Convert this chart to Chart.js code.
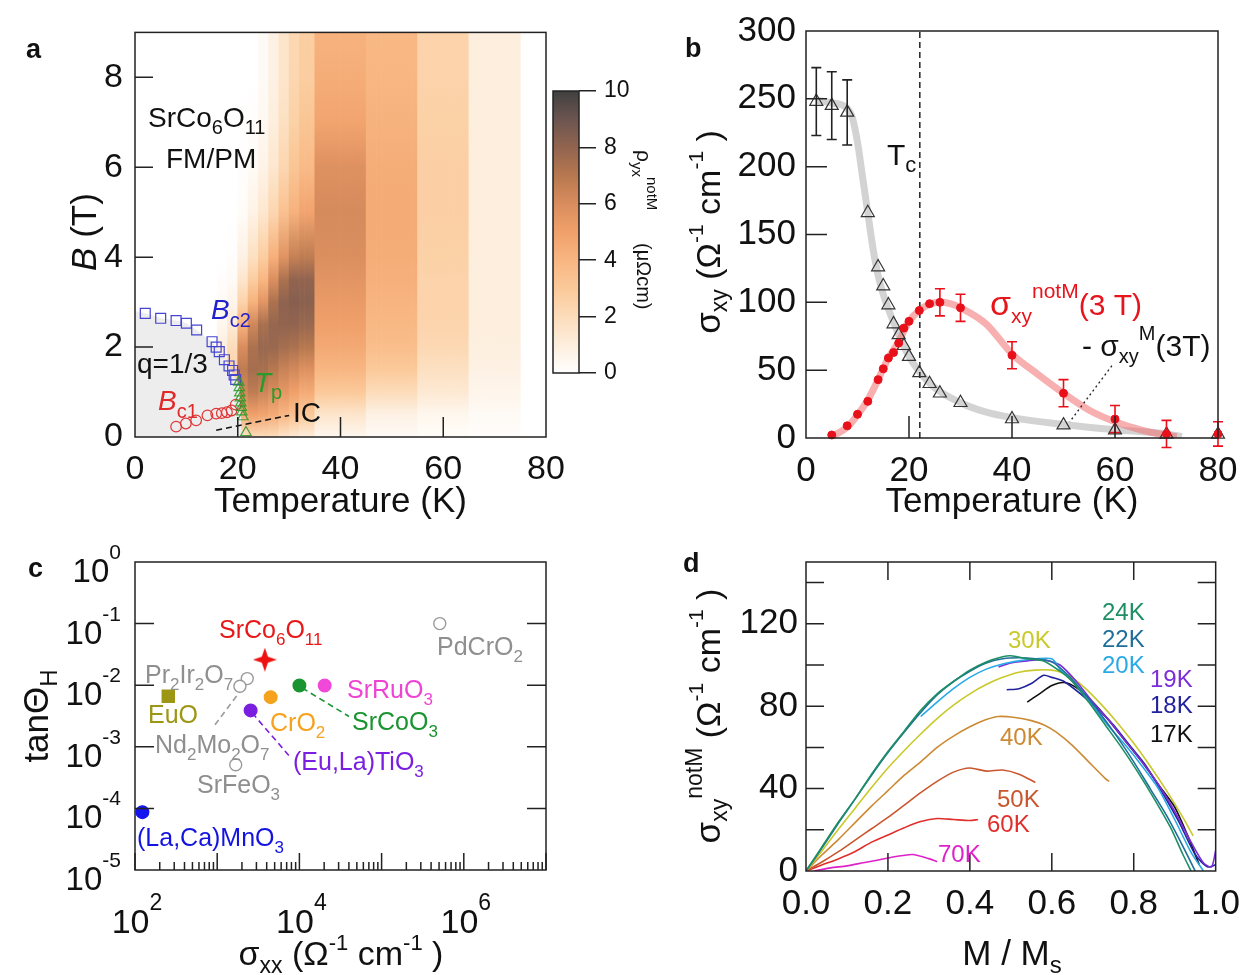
<!DOCTYPE html>
<html><head><meta charset="utf-8">
<script src="https://cdn.jsdelivr.net/npm/chart.js@4.4.1/dist/chart.umd.min.js"></script>
<style>
html,body{margin:0;padding:0;background:#fff;}
#wrap{position:relative;width:1252px;height:975px;overflow:hidden;background:#fff;}
#wrap canvas{position:absolute;left:0;top:0;}
</style></head>
<body><div id="wrap"></div>
<script>
const FONT = "'Liberation Sans', Arial, Helvetica, sans-serif";
const W = 1252, H = 975;

// ================= DATA =================
// Panel a : heatmap of rho_yx^notM (columns in T, stops in B)
const heatEdges = [16,18,20,22,24,26,28,30,32,35,45,55,65,75];
const heatB     = [0,0.5,1,1.5,2,2.5,3,3.5,4,5,6,7,8,9];
const rho17 = [0.5,1.0,1.0,1.0,1.0,0.5,0.3,0.1,0,0,0,0,0,0];
const rho19 = [1.0,2.0,2.5,2.5,2.0,1.2,0.6,0.3,0.1,0,0,0,0,0];
const rho21 = [1.5,4.5,6.2,6.8,6.0,4.2,2.5,1.5,0.8,0.2,0.1,0,0,0];
const rho23 = [2.0,5.0,6.8,7.5,7.3,6.3,4.2,2.8,1.8,0.7,0.3,0.1,0,0];
const rho25 = [2.0,4.8,6.4,7.4,7.8,7.4,5.6,4.0,2.8,1.4,0.7,0.4,0.3,0.3];
const rho27 = [2.0,4.5,6.0,7.0,7.8,7.9,7.3,5.9,4.3,2.3,1.4,1.0,0.8,0.8];
const rho29 = [1.5,4.0,5.5,6.5,7.5,8.0,8.1,7.3,5.7,3.4,2.3,1.8,1.5,1.5];
const rho31 = [1.2,3.5,5.0,6.2,7.3,8.0,8.3,8.0,6.6,4.2,3.2,2.6,2.3,2.2];
const rho33 = [1.0,3.0,4.5,5.8,7.0,7.8,8.2,8.0,6.8,4.8,3.8,3.2,2.8,2.7];
const rho40 = [0.5,1.5,3.0,4.0,4.6,5.0,5.3,5.6,5.9,6.1,5.8,4.8,4.4,4.2];
const rho50 = [0.3,0.8,2.0,3.0,3.6,3.9,4.1,4.3,4.4,4.5,4.4,4.2,4.0,3.9];
const rho60 = [0.2,0.5,1.3,1.8,2.2,2.4,2.5,2.5,2.6,2.7,2.7,2.6,2.5,2.5];
const rho70 = [0.1,0.3,0.6,0.8,0.9,1.0,1.0,1.0,1.0,1.0,1.0,1.0,1.0,1.0];
const heatCols = [rho17,rho19,rho21,rho23,rho25,rho27,rho29,rho31,rho33,rho40,rho50,rho60,rho70];
// colour scale (value -> colour)
const cbarVals   = [0,1,2,3,4,5,6,7,8,9,10];
const cbarColors = ['#ffffff','#fdeedd','#fcdcba','#fbc999','#f8b682','#f0a06a','#d98d5e','#b7784f','#92644f','#6c5550','#404040'];
const cbTicks = [0,2,4,6,8,10];
// phase boundaries
const bc2T = [2,5,8,10,12,15,15.8,16.4,17.4,18.3,19,19.3,19.6];
const bc2B = [2.75,2.64,2.59,2.53,2.38,2.12,2.0,1.9,1.72,1.58,1.48,1.38,1.28];
const bc1T = [8,9.9,11.9,14.1,15.8,16.9,17.9,18.8,19.6];
const bc1B = [0.23,0.30,0.37,0.48,0.52,0.53,0.55,0.59,0.72];
const tpT  = [20.2,20.3,20.4,20.5,20.6,20.7,20.8,21.0,21.6];
const tpB  = [1.22,1.10,0.98,0.87,0.76,0.66,0.56,0.45,0.10];
const qT   = [0,2,5,8,10,12,15,16.4,18.3,19.6,20.3,20.6,20.8];
const qB   = [2.8,2.75,2.64,2.59,2.53,2.38,2.12,1.9,1.58,1.28,1.15,0.5,0];
const icT  = [15.8,30];
const icB  = [0.15,0.48];
const aXTicks = [0,20,40,60,80];
const aYTicks = [0,2,4,6,8];

// Panel b
const triT   = [2,5,8,12,14,15,16,17,18,19,20,22,24,26,30,40,50,60,70,80];
const triS   = [248,245,240,166,126,112,98,84,76,68,60,48,40,33,26,14,9.5,5.8,2.7,2.7];
const triErr = [25,25,24,0,0,0,0,0,0,0,0,0,0,0,0,0,0,0,0,0];
const redT   = [5,8,10,12,14,15,16,17,18,19,20,22,24,26,30,40,50,60,70,80];
const redS   = [2.2,9,17.5,27,43,51,59,63,70,81,86,94,99,100,96,61,33,14,3,3];
const redErr = [0,0,0,0,0,0,0,0,0,0,0,0,0,10,10,10,10,10,10,9];
const grayFitT = [2,5,8,9,10,11,12,13,14,15,16,18,20,22,25,30,35,40,50,60,70,73];
const grayFitS = [249,247,243,236,218,192,166,140,120,106,95,76,60,49,37,26,19,15,10,6,3,1];
const redFitT  = [5,8,10,12,14,16,18,20,22,24,26,28,30,35,40,45,50,55,60,65,70,72];
const redFitS  = [1,8,17,28,43,59,71,86,94,98.5,100,99,96,84,62,47,33,20.5,12,6,2,1];
const tcT = [22.1,22.1];
const tcS = [0,300];
const leaderT = [59.4,51.2];
const leaderS = [53.3,11.9];
const bXTicks = [0,20,40,60,80];
const bYTicks = [0,50,100,150,200,250,300];

// Panel c
const matNames = ['(La,Ca)MnO3','EuO','Pr2Ir2O7','Nd2Mo2O7','SrFeO3','(Eu,La)TiO3','SrCo6O11','CrO2','SrCoO3','SrRuO3','PdCrO2'];
const sigmaXX  = [123,254,2320,1890,1680,2550,3800,4470,10000,20300,510000];
const tanTheta = [8.7e-5,6.6e-3,1.28e-2,9.6e-3,5.1e-4,3.9e-3,2.6e-2,6.4e-3,9.9e-3,9.9e-3,0.1];
const leadNdX = [940,1890],  leadNdY = [2.28e-3,7.9e-3];
const leadEuX = [2670,7460], leadEuY = [3.53e-3,7.2e-4];
const leadCoX = [10840,40100], leadCoY = [9.0e-3,3.11e-3];
const cXTicks = [1e2,1e4,1e6];
const cYTicks = [1,1e-1,1e-2,1e-3,1e-4,1e-5];

// Panel d : sigma_xy^notM vs M/Ms
const d17M=[0.54,0.57,0.6,0.63,0.66,0.7,0.74,0.78,0.82,0.86,0.9,0.93,0.96];
const d17S=[82,86,90,91.5,89,82,73,63,53,42,31,18,3];
const d18M=[0.49,0.52,0.55,0.58,0.6,0.63,0.67,0.71,0.75,0.79,0.83,0.87,0.91,0.95,0.98,1.0];
const d18S=[88,88.5,91,95,94,92,86,79,71,61,51,38,24,8,2,3];
const d19M=[0.47,0.5,0.54,0.58,0.62,0.66,0.7,0.74,0.78,0.82,0.86,0.9,0.94,0.97,0.99,1.0];
const d19S=[99,101,102,102.5,100,92,82,73,63,53,42,29,14,4,2,10];
const d20M=[0.28,0.32,0.36,0.4,0.44,0.48,0.52,0.56,0.6,0.62,0.66,0.7,0.74,0.78,0.82,0.86,0.9,0.94,0.97];
const d20S=[75,82,88.5,94,98,100.5,102,103,103,98,90,80,70,61,51,40,25,9,0];
const d22M=[0,0.04,0.08,0.12,0.16,0.2,0.24,0.28,0.32,0.36,0.4,0.44,0.48,0.52,0.56,0.6,0.64,0.68,0.72,0.76,0.8,0.84,0.88,0.92,0.95];
const d22S=[0,11.5,23.5,35,46.5,57.5,67.5,77,85.5,92,97,101,103,103.5,103,101.5,95,86,76,65,53,40,27,12,0];
const d24M=[0,0.04,0.08,0.12,0.16,0.2,0.24,0.28,0.32,0.36,0.4,0.44,0.48,0.5,0.54,0.58,0.62,0.65,0.69,0.73,0.77,0.81,0.85,0.89,0.92,0.94];
const d24S=[0,12,24,35,47,58,68,78,86,92,97.5,101.5,104,104.5,103,102,97,92,82,71,60,48,35,21,8,0];
const d30M=[0,0.04,0.08,0.12,0.16,0.2,0.24,0.28,0.32,0.36,0.4,0.44,0.48,0.52,0.56,0.6,0.64,0.68,0.72,0.76,0.8,0.84,0.88,0.92,0.945];
const d30S=[0,10,20.5,30.5,40.5,50,58.5,66.5,74,80.5,86,90.5,94,96.5,97.5,97.5,95,89,81,72,62,51,39,26,17];
const d40M=[0,0.04,0.08,0.12,0.16,0.2,0.24,0.28,0.32,0.36,0.4,0.44,0.47,0.51,0.55,0.58,0.61,0.65,0.69,0.73,0.74];
const d40S=[0,8,15.5,23.5,31.5,39,46.5,53,60,65.5,70,73.5,75,74.5,73,71,67.5,61,53,45,43.5];
const d50M=[0,0.04,0.08,0.12,0.16,0.2,0.24,0.28,0.32,0.36,0.4,0.44,0.48,0.52,0.56];
const d50S=[0,4.5,9.5,15,20.5,26,32,38,43.5,48,50,48.5,49,47,43];
const d60M=[0,0.04,0.08,0.12,0.16,0.2,0.24,0.28,0.32,0.36,0.4,0.42];
const d60S=[0,3,6,9.5,14,17.5,21,24,25.5,25,24.5,25];
const d70M=[0.02,0.06,0.1,0.14,0.18,0.22,0.26,0.3,0.32];
const d70S=[0,1.5,2.5,4,5.5,7,8,6,4.5];
const dTemps = ['70K','60K','50K','40K','30K','17K','18K','19K','20K','22K','24K'];
const dXTicks = [0,0.2,0.4,0.6,0.8,1.0];
const dYTicks = [0,20,40,60,80,100,120,140];

// ================= HELPERS =================
Chart.defaults.font.family = FONT;
Chart.defaults.color = '#111';

function mkCanvas(){
  const c = document.createElement('canvas');
  c.width = W; c.height = H; c.style.width = W+'px'; c.style.height = H+'px';
  document.getElementById('wrap').appendChild(c);
  return c;
}
function hex2rgb(h){ const n=parseInt(h.slice(1),16); return [(n>>16)&255,(n>>8)&255,n&255]; }
const cbarRGB = cbarColors.map(hex2rgb);
function cmap(v){
  v = Math.max(0, Math.min(10, v));
  let i = 0; while (i < cbarVals.length-2 && v > cbarVals[i+1]) i++;
  const f = (v - cbarVals[i])/(cbarVals[i+1]-cbarVals[i]);
  const a = cbarRGB[i], b = cbarRGB[i+1];
  return `rgb(${Math.round(a[0]+(b[0]-a[0])*f)},${Math.round(a[1]+(b[1]-a[1])*f)},${Math.round(a[2]+(b[2]-a[2])*f)})`;
}
function pts(xs, ys){ return xs.map((x,i)=>({x, y: ys[i]})); }
function fontStr(s){ return `${s.it?'italic ':''}${s.b?'bold ':''}${s.s}px ${FONT}`; }
function rich(ctx, x, y, segs, o={}){
  ctx.save();
  ctx.translate(x, y); ctx.rotate(o.rot || 0);
  ctx.textBaseline = 'alphabetic'; ctx.textAlign = 'left';
  const ws = segs.map(s => { ctx.font = fontStr(s); return ctx.measureText(s.t).width; });
  const tot = ws.reduce((a,b)=>a+b, 0);
  let cx = o.align === 'center' ? -tot/2 : (o.align === 'right' ? -tot : 0);
  segs.forEach((s,i) => {
    ctx.font = fontStr(s);
    ctx.fillStyle = s.color || o.color || '#111';
    ctx.fillText(s.t, cx, s.dy || 0);
    cx += ws[i];
  });
  ctx.restore();
}
function chem(str, size, sub, color){
  const segs = []; let buf = '', isD = null;
  for (const ch of str){
    const d = /[0-9]/.test(ch);
    if (isD === null || d === isD) buf += ch;
    else { segs.push({t:buf, s:isD?sub:size, dy:isD?size*0.26:0, color}); buf = ch; }
    isD = d;
  }
  if (buf) segs.push({t:buf, s:isD?sub:size, dy:isD?size*0.26:0, color});
  return segs;
}
function frameTicks(spec){
  return { id:'frameTicks', afterDatasetsDraw(chart){
    const {ctx, chartArea:a} = chart;
    ctx.save(); ctx.strokeStyle = '#222'; ctx.lineWidth = 1.5; ctx.beginPath();
    (spec||[]).forEach(t => {
      const sc = chart.scales[t.axis];
      t.values.forEach(v => {
        const p = sc.getPixelForValue(v), L = t.len;
        if (t.side==='left'){ ctx.moveTo(a.left,p); ctx.lineTo(a.left+L,p); }
        else if (t.side==='right'){ ctx.moveTo(a.right,p); ctx.lineTo(a.right-L,p); }
        else if (t.side==='bottom'){ ctx.moveTo(p,a.bottom); ctx.lineTo(p,a.bottom-L); }
        else { ctx.moveTo(p,a.top); ctx.lineTo(p,a.top+L); }
      });
    });
    ctx.stroke();
    ctx.strokeRect(a.left, a.top, a.right-a.left, a.bottom-a.top);
    ctx.restore();
  }};
}
function textPlugin(fn){ return { id:'texts', afterDraw(chart){ fn(chart.ctx, chart); } }; }
function axis(type, min, max, tickVals, o){
  return {
    type, min, max, offset:false, display: true, position: o.position,
    grid:{display:false, drawTicks:false}, border:{display:false},
    ticks:{display: o.hide ? false : true, autoSkip:false, maxRotation:0, minRotation:0, padding:o.padding, labelOffset:o.labelOffset||0,
           font:{size:o.size, family:FONT}, color:'#111', callback: o.cb || (v => String(v))},
    afterBuildTicks: s => { s.ticks = tickVals.map(v => ({value:v})); },
    afterFit: s => { if (o.w != null) s.width = o.w; if (o.h != null) s.height = o.h; }
  };
}
function baseOpts(area, scales){
  const yW = 100, xH = 60;
  return {
    responsive:false, animation:false, devicePixelRatio:1, events:[],
    layout:{autoPadding:false, padding:{left:area[0]-yW, top:area[1], right:W-area[2], bottom:H-area[3]-xH}},
    plugins:{legend:{display:false}, tooltip:{enabled:false}},
    scales
  };
}
function expOf(v){ return String(Math.round(Math.log10(v))); }

// ================= PANEL a =================
const AREA_A = [135, 27, 546, 437];
const heatBins = [];
for (let k = 0; k < heatCols.length; k++)
  for (let t = heatEdges[k]; t < heatEdges[k+1]; t++) heatBins.push({x:t+0.5, y:[0,9], col:k});
const gradCache = {};
function heatFill(c){
  if (c.type !== 'data' || !c.raw) return 'rgba(0,0,0,0)';
  const ch = c.chart, ys = ch.scales && ch.scales.y; if (!ys) return 'rgba(0,0,0,0)';
  const y0 = ys.getPixelForValue(0), y1 = ys.getPixelForValue(9);
  if (!isFinite(y0) || !isFinite(y1) || y0 === y1) return 'rgba(0,0,0,0)';
  const k = c.raw.col, key = k+':'+y0+':'+y1;
  if (!gradCache[key]){
    const g = ch.ctx.createLinearGradient(0, y0, 0, y1);
    heatB.forEach((b,i) => g.addColorStop(b/9, cmap(heatCols[k][i])));
    gradCache[key] = g;
  }
  return gradCache[key];
}
try {
new Chart(mkCanvas(), {
  type:'bar',
  data:{datasets:[
    {type:'line', label:'IC', data:pts(icT,icB), borderColor:'#111', borderWidth:1.5, borderDash:[6,4], pointRadius:0, order:1},
    {type:'line', label:'Tp', data:pts(tpT,tpB), showLine:false, pointStyle:'triangle', pointRadius:6,
     pointBorderColor:'rgba(40,150,40,0.85)', pointBackgroundColor:'rgba(0,0,0,0)', pointBorderWidth:1.2, order:2, clip:false},
    {type:'line', label:'Bc1', data:pts(bc1T,bc1B), showLine:false, pointStyle:'circle', pointRadius:5.3,
     pointBorderColor:'#e03535', pointBackgroundColor:'rgba(0,0,0,0)', pointBorderWidth:1.2, order:3, clip:false},
    {type:'line', label:'Bc2', data:pts(bc2T,bc2B), showLine:false, pointStyle:'rect', pointRadius:7,
     pointBorderColor:'#4545d0', pointBackgroundColor:'rgba(0,0,0,0)', pointBorderWidth:1.2, order:4, clip:false},
    {type:'line', label:'q=1/3', data:pts(qT,qB), fill:'origin', backgroundColor:'#ededed', borderWidth:0, pointRadius:0, order:9},
    {type:'bar', label:'rho', data:heatBins, backgroundColor:heatFill, borderWidth:0, barPercentage:1, categoryPercentage:1, order:10}
  ]},
  options: baseOpts(AREA_A, {
    x: axis('linear', 0, 80, aXTicks, {padding:12, size:34, h:60}),
    y: axis('linear', 0, 9, aYTicks, {padding:12, size:34, w:100})
  }),
  plugins:[
    frameTicks([{axis:'y', side:'left', values:[2,4,6,8], len:18}, {axis:'x', side:'bottom', values:[20,40,60], len:20}]),
    textPlugin(ctx => {
      rich(ctx, 26, 58, [{t:'a', s:27, b:true}]);
      rich(ctx, 148, 127, chem('SrCo6O11', 28, 20));
      rich(ctx, 166, 168, [{t:'FM/PM', s:28}]);
      rich(ctx, 211, 319, [{t:'B', s:28, it:true, color:'#2222cc'}, {t:'c2', s:20, dy:8, color:'#2222cc'}]);
      rich(ctx, 137, 373, [{t:'q=1/3', s:28}]);
      rich(ctx, 158, 410, [{t:'B', s:28, it:true, color:'#e02a2a'}, {t:'c1', s:20, dy:8, color:'#e02a2a'}]);
      rich(ctx, 254, 392, [{t:'T', s:28, it:true, color:'#2a9a2a'}, {t:'p', s:20, dy:7, color:'#2a9a2a'}]);
      rich(ctx, 293, 422, [{t:'IC', s:28}]);
      rich(ctx, 96, 232, [{t:'B', s:35, it:true}, {t:' (T)', s:35}], {rot:-Math.PI/2, align:'center'});
      rich(ctx, 340.5, 512, [{t:'Temperature (K)', s:35}], {align:'center'});
    })
  ]
});
} catch(e) { console.error(e); }

// ================= COLOUR BAR =================
const cbCache = {};
function cbFill(c){
  const ch = c.chart, ys = ch.scales && ch.scales.y; if (!ys) return '#fff';
  const y0 = ys.getPixelForValue(0), y1 = ys.getPixelForValue(10);
  if (!isFinite(y0) || !isFinite(y1) || y0 === y1) return '#fff';
  const key = y0+':'+y1;
  if (!cbCache[key]){
    const g = ch.ctx.createLinearGradient(0, y0, 0, y1);
    cbarVals.forEach((v,i) => g.addColorStop(v/10, cbarColors[i]));
    cbCache[key] = g;
  }
  return cbCache[key];
}
try {
new Chart(mkCanvas(), {
  type:'bar',
  data:{labels:['rho'], datasets:[{data:[[0,10]], backgroundColor:cbFill, borderWidth:0, barPercentage:1, categoryPercentage:1}]},
  options:{
    responsive:false, animation:false, devicePixelRatio:1, events:[],
    layout:{autoPadding:false, padding:{left:553, top:91, right:W-579-60, bottom:H-373}},
    plugins:{legend:{display:false}, tooltip:{enabled:false}},
    scales:{
      x:{display:false, offset:true},
      y:{type:'linear', position:'right', min:0, max:10,
         grid:{display:true, drawOnChartArea:false, drawTicks:true, tickLength:17, color:'#222', lineWidth:1.5},
         border:{display:false},
         ticks:{autoSkip:false, padding:8, font:{size:23, family:FONT}, color:'#111'},
         afterBuildTicks: s => { s.ticks = cbTicks.map(v=>({value:v})); },
         afterFit: s => { s.width = 60; }}
    }
  },
  plugins:[
    frameTicks([]),
    textPlugin(ctx => {
      rich(ctx, 637, 150, [{t:'ρ', s:21}, {t:'yx', s:15, dy:5}, {t:'notM', s:15, dy:-10}], {rot:Math.PI/2});
      rich(ctx, 637, 243, [{t:'(μΩcm)', s:20}], {rot:Math.PI/2});
    })
  ]
});
} catch(e) { console.error(e); }

// ================= PANEL b =================
const AREA_B = [806, 27, 1218, 438];
try {
new Chart(mkCanvas(), {
  type:'line',
  data:{datasets:[
    {label:'grayFit', data:pts(grayFitT,grayFitS), borderColor:'rgba(200,200,200,0.8)', borderWidth:7, pointRadius:0, cubicInterpolationMode:'monotone', order:6},
    {label:'redFit', data:pts(redFitT,redFitS), borderColor:'rgba(240,110,110,0.55)', borderWidth:7, pointRadius:0, cubicInterpolationMode:'monotone', order:5},
    {label:'Tc', data:pts(tcT,tcS), borderColor:'#222', borderWidth:1.5, borderDash:[6,4], pointRadius:0, order:4},
    {label:'leader', data:pts(leaderT,leaderS), borderColor:'#222', borderWidth:1.3, borderDash:[2,3], pointRadius:0, order:4},
    {label:'-sigmaM', data:pts(triT,triS), showLine:false, pointStyle:'triangle', pointRadius:7.5, pointBorderColor:'#333',
     pointBackgroundColor:'rgba(0,0,0,0)', pointBorderWidth:1.2, order:3, clip:false},
    {label:'sigmaNotM', data:pts(redT,redS), showLine:false, pointStyle:'circle', pointRadius:4, pointBorderColor:'#e8101a',
     pointBackgroundColor:'#e8101a', pointBorderWidth:1, order:2, clip:false}
  ]},
  options: baseOpts(AREA_B, {
    x: axis('linear', 0, 80, bXTicks, {padding:12, size:35, h:60}),
    y: axis('linear', 0, 300, bYTicks, {padding:10, size:35, w:100})
  }),
  plugins:[
    {id:'errbars', afterDatasetsDraw(chart){
      const {ctx} = chart, xs = chart.scales.x, ys = chart.scales.y;
      const draw = (T, S, E, col) => {
        ctx.strokeStyle = col; ctx.lineWidth = 1.6; ctx.beginPath();
        T.forEach((t,i) => { if (!E[i]) return;
          const px = xs.getPixelForValue(t), p1 = ys.getPixelForValue(S[i]-E[i]), p2 = ys.getPixelForValue(S[i]+E[i]);
          ctx.moveTo(px,p1); ctx.lineTo(px,p2); ctx.moveTo(px-5,p1); ctx.lineTo(px+5,p1); ctx.moveTo(px-5,p2); ctx.lineTo(px+5,p2);
        });
        ctx.stroke();
      };
      ctx.save(); draw(triT,triS,triErr,'#222'); draw(redT,redS,redErr,'#e8101a'); ctx.restore();
    }},
    frameTicks([{axis:'y', side:'left', values:[50,100,150,200,250], len:21}, {axis:'x', side:'bottom', values:[20,40,60], len:22}]),
    textPlugin(ctx => {
      rich(ctx, 685, 57, [{t:'b', s:27, b:true}]);
      rich(ctx, 887, 165, [{t:'T', s:30}, {t:'c', s:22, dy:7}]);
      const R = '#e8141c';
      rich(ctx, 990, 315, [{t:'σ', s:34, color:R}, {t:'xy', s:21, dy:8, color:R}, {t:'notM', s:21, dy:-17, color:R}, {t:'(3 T)', s:30, color:R}]);
      rich(ctx, 1082, 356, [{t:'- σ', s:30}, {t:'xy', s:20, dy:7}, {t:'M', s:20, dy:-16}, {t:'(3T)', s:30}]);
      rich(ctx, 720, 232, [{t:'σ', s:35}, {t:'xy', s:23, dy:7}, {t:' (Ω', s:34}, {t:'-1', s:21, dy:-17}, {t:' cm', s:34}, {t:'-1', s:21, dy:-17}, {t:' )', s:34}], {rot:-Math.PI/2, align:'center'});
      rich(ctx, 1012, 512, [{t:'Temperature (K)', s:35}], {align:'center'});
    })
  ]
});
} catch(e) { console.error(e); }

// ================= PANEL c =================
const AREA_C = [135, 562, 546, 870];
function starCanvas(size, color){
  const c = document.createElement('canvas'); c.width = c.height = size;
  const g = c.getContext('2d'), r = size/2, ri = r*0.36;
  g.beginPath();
  for (let i = 0; i < 8; i++){ const a = -Math.PI/2 + i*Math.PI/4, rr = i%2 ? ri : r; g.lineTo(r+rr*Math.cos(a), r+rr*Math.sin(a)); }
  g.closePath(); g.fillStyle = color; g.fill();
  return c;
}
const starImg = starCanvas(24, '#ee1111');
const cFill   = ['#1414ee','#9c9614','#ffffff','#ffffff','#ffffff','#7a1ee0','#ee1111','#f5a21e','#1a9430','#f048d8','#ffffff'];
const cBorder = ['#1414ee','#9c9614','#9a9a9a','#9a9a9a','#9a9a9a','#7a1ee0','#ee1111','#f5a21e','#1a9430','#f048d8','#9a9a9a'];
const cStyle  = ['circle','rect','circle','circle','circle','circle',starImg,'circle','circle','circle','circle'];
const cRad    = [6.3,8.5,6,6,6,6.3,11,6.3,6.3,6.3,6];
try {
new Chart(mkCanvas(), {
  type:'scatter',
  data:{datasets:[
    {label:'materials', data:pts(sigmaXX,tanTheta), pointStyle:cStyle, pointRadius:cRad, pointBackgroundColor:cFill,
     pointBorderColor:cBorder, pointBorderWidth:1.4, order:1, clip:false},
    {type:'line', label:'leadNd', data:pts(leadNdX,leadNdY), borderColor:'#9a9a9a', borderWidth:1.6, borderDash:[6,4], pointRadius:0, order:2},
    {type:'line', label:'leadEu', data:pts(leadEuX,leadEuY), borderColor:'#7a1ee0', borderWidth:1.6, borderDash:[6,4], pointRadius:0, order:2},
    {type:'line', label:'leadCo', data:pts(leadCoX,leadCoY), borderColor:'#1a9430', borderWidth:1.6, borderDash:[6,4], pointRadius:0, order:2}
  ]},
  options: baseOpts(AREA_C, {
    x: axis('logarithmic', 1e2, 1e7, cXTicks, {padding:26, size:34, h:60, hide:true}),
    y: axis('logarithmic', 1e-5, 1, cYTicks, {padding:15, size:34, w:100, hide:true})
  }),
  plugins:[
    frameTicks((() => {
      const major = [1e2,1e3,1e4,1e5,1e6,1e7], minor = [];
      for (let e = 2; e < 7; e++) for (let m = 2; m < 10; m++) minor.push(m*Math.pow(10,e));
      return [
        {axis:'y', side:'left', values:[1e-1,1e-2,1e-3,1e-4], len:19},
        {axis:'y', side:'right', values:[1e-1,1e-2,1e-3,1e-4], len:19},
        {axis:'x', side:'bottom', values:major, len:17},
        {axis:'x', side:'bottom', values:minor, len:8}
      ];
    })()),
    textPlugin((ctx, chart) => {
      // power-of-ten tick labels placed through the chart's own log scales
      const xs = chart.scales.x, ys = chart.scales.y;
      cXTicks.forEach(v => rich(ctx, xs.getPixelForValue(v) + 2, 933, [{t:'10', s:34}, {t:expOf(v), s:23, dy:-23}], {align:'center'}));
      cYTicks.forEach(v => rich(ctx, 121, ys.getPixelForValue(v) + 20, [{t:'10', s:33}, {t:expOf(v), s:21, dy:-23}], {align:'right'}));
      rich(ctx, 28, 577, [{t:'c', s:27, b:true}]);
      const L = (name, x, y, col) => rich(ctx, x, y, chem(name, 25, 17, col));
      L('SrCo6O11', 219, 638, '#e81818');
      L('PdCrO2', 437, 655, '#8f8f8f');
      L('Pr2Ir2O7', 145, 683, '#8f8f8f');
      L('EuO', 148, 723, '#9c9614');
      L('SrRuO3', 347, 698, '#ee44d4');
      L('CrO2', 270, 731, '#f5a21e');
      L('SrCoO3', 352, 730, '#1a9430');
      L('Nd2Mo2O7', 155, 753, '#8f8f8f');
      L('(Eu,La)TiO3', 293, 770, '#7a1ee0');
      L('SrFeO3', 197, 793, '#8f8f8f');
      L('(La,Ca)MnO3', 137, 846, '#1414e0');
      rich(ctx, 48, 716, [{t:'tanΘ', s:35}, {t:'H', s:24, dy:9}], {rot:-Math.PI/2, align:'center'});
      rich(ctx, 341, 965, [{t:'σ', s:34}, {t:'xx', s:23, dy:8}, {t:' (Ω', s:34}, {t:'-1', s:22, dy:-15}, {t:' cm', s:34}, {t:'-1', s:22, dy:-15}, {t:' )', s:34}], {align:'center'});
    })
  ]
});
} catch(e) { console.error(e); }

// ================= PANEL d =================
const AREA_D = [806, 562, 1218, 871];
const dSeries = {
  '70K':[d70M,d70S,'#dd22c8'], '60K':[d60M,d60S,'#e0302c'], '50K':[d50M,d50S,'#c9572e'], '40K':[d40M,d40S,'#cc8a34'],
  '30K':[d30M,d30S,'#c9c92c'], '17K':[d17M,d17S,'#111111'], '18K':[d18M,d18S,'#22229e'], '19K':[d19M,d19S,'#7b2fd6'],
  '20K':[d20M,d20S,'#29a9e6'], '22K':[d22M,d22S,'#1f6f9a'], '24K':[d24M,d24S,'#1e8f64']
};
try {
new Chart(mkCanvas(), {
  type:'line',
  data:{datasets: dTemps.map((k,i) => ({label:k, data:pts(dSeries[k][0], dSeries[k][1]), borderColor:dSeries[k][2],
         borderWidth:1.6, pointRadius:0, tension:0.25, order:20-i}))},
  options: baseOpts(AREA_D, {
    x: axis('linear', 0, 1, dXTicks, {padding:12, size:35, h:60, cb:v => v.toFixed(1)}),
    y: axis('linear', 0, 150, dYTicks, {padding:8, size:35, w:100, cb:v => (v % 40 === 0 ? String(v) : '')})
  }),
  plugins:[
    frameTicks([
      {axis:'y', side:'left', values:[20,40,60,80,100,120,140], len:18},
      {axis:'y', side:'right', values:[20,40,60,80,100,120,140], len:18},
      {axis:'x', side:'bottom', values:[0.2,0.4,0.6,0.8], len:18},
      {axis:'x', side:'top', values:[0.2,0.4,0.6,0.8], len:18}
    ]),
    textPlugin(ctx => {
      rich(ctx, 683, 572, [{t:'d', s:27, b:true}]);
      const labs = [['24K',1102,620],['22K',1102,647],['20K',1102,673],['30K',1008,648],['19K',1150,687],['18K',1150,713],
                    ['17K',1150,742],['40K',1000,745],['50K',997,807],['60K',987,832],['70K',938,862]];
      labs.forEach(([k,x,y]) => rich(ctx, x, y, [{t:k, s:24, color:dSeries[k][2]}]));
      rich(ctx, 720, 716, [{t:'σ', s:35}, {t:'xy', s:23, dy:7}, {t:'notM', s:23, dy:-18}, {t:' (Ω', s:34}, {t:'-1', s:21, dy:-17}, {t:' cm', s:34}, {t:'-1', s:21, dy:-17}, {t:' )', s:34}], {rot:-Math.PI/2, align:'center'});
      rich(ctx, 1012, 965, [{t:'M / M', s:35}, {t:'s', s:24, dy:8}], {align:'center'});
    })
  ]
});
} catch(e) { console.error(e); }
</script>
</body></html>
